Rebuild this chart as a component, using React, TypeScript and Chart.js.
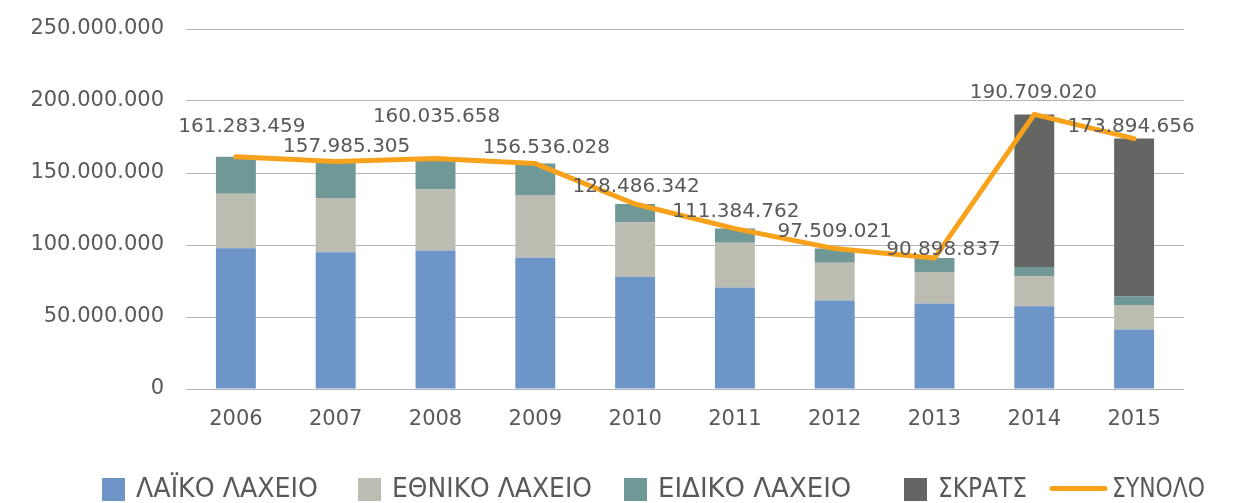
import React, { useEffect, useRef } from 'react';
import { Chart, registerables } from 'chart.js';

Chart.register(...registerables);

const years = ['2006', '2007', '2008', '2009', '2010', '2011', '2012', '2013', '2014', '2015'];
const laiko = [97700000, 95000000, 96100000, 91200000, 77900000, 70400000, 61400000, 59300000, 57500000, 41300000];
const ethniko = [37900000, 37600000, 42500000, 43500000, 37900000, 31200000, 26200000, 22000000, 20600000, 17100000];
const eidiko = [25683459, 25385305, 21435658, 21836028, 12686342, 9784762, 9909021, 9598837, 6700000, 5800000];
const skrats = [0, 0, 0, 0, 0, 0, 0, 0, 105909020, 109694656];
const synolo = [161283459, 157985305, 160035658, 156536028, 128486342, 111384762, 97509021, 90898837, 190709020, 173894656];
const yTicks = [0, 50000000, 100000000, 150000000, 200000000, 250000000];

// label placement relative to line points (layout only)
const labelDx = [6, 11, 1, 11, 1, 1, 0, 9, -1, -3];
const labelDy = [-30, -15, -42, -16, -17, -17, -17, -8, -22, -12];

// legend layout (style only)
const legendX = [102, 358, 624, 904, 1050];
const legendTextW = [182, 200, 198, 89, 93];

const FONT = "'DejaVu Sans', sans-serif";
const TEXT = '#595959';
const COLORS = {
  laiko: '#6d95c8',
  ethniko: '#bcbcb0',
  eidiko: '#709896',
  skrats: '#646664',
  synolo: '#f8a21c',
};

const fmt = (n: number) => Math.round(n).toString().replace(/\B(?=(\d{3})+(?!\d))/g, '.');

const dataLabelPlugin = {
  id: 'lineLabels',
  afterDatasetsDraw(chart: any) {
    const idx = chart.data.datasets.findIndex((d: any) => d.type === 'line');
    if (idx < 0) return;
    const meta = chart.getDatasetMeta(idx);
    const ctx = chart.ctx;
    ctx.save();
    ctx.font = `20px ${FONT}`;
    ctx.fillStyle = TEXT;
    ctx.textAlign = 'center';
    ctx.textBaseline = 'middle';
    meta.data.forEach((pt: any, i: number) => {
      const v = chart.data.datasets[idx].data[i];
      ctx.fillText(fmt(v), pt.x + labelDx[i], pt.y + labelDy[i]);
    });
    ctx.restore();
  },
};

const legendPlugin = {
  id: 'customLegend',
  afterDraw(chart: any) {
    const ctx = chart.ctx;
    ctx.save();
    ctx.font = `26px ${FONT}`;
    ctx.textBaseline = 'middle';
    ctx.textAlign = 'left';
    const cy = 489.5;
    chart.data.datasets.forEach((ds: any, i: number) => {
      let x = legendX[i];
      const isLine = ds.type === 'line';
      if (isLine) {
        ctx.strokeStyle = ds.borderColor;
        ctx.lineWidth = 5;
        ctx.lineCap = 'round';
        ctx.beginPath();
        ctx.moveTo(x + 2, cy - 1);
        ctx.lineTo(x + 55, cy - 1);
        ctx.stroke();
        x += 62;
      } else {
        ctx.fillStyle = ds.backgroundColor;
        ctx.fillRect(x, cy - 11.5, 23, 23);
        x += 34;
      }
      ctx.fillStyle = TEXT;
      ctx.fillText(ds.label, x, cy + 1, legendTextW[i]);
    });
    ctx.restore();
  },
};

export default function App() {
  const ref = useRef<HTMLCanvasElement>(null);

  useEffect(() => {
    if (!ref.current) return;
    const barCommon = {
      type: 'bar' as const,
      stack: 'bars',
      order: 1,
      barPercentage: 0.4,
      categoryPercentage: 1,
      borderWidth: 0,
    };
    const chart = new Chart(ref.current, {
      type: 'bar',
      data: {
        labels: years,
        datasets: [
          { ...barCommon, label: 'ΛΑΪΚΟ ΛΑΧΕΙΟ', data: laiko, backgroundColor: COLORS.laiko },
          { ...barCommon, label: 'ΕΘΝΙΚΟ ΛΑΧΕΙΟ', data: ethniko, backgroundColor: COLORS.ethniko },
          { ...barCommon, label: 'ΕΙΔΙΚΟ ΛΑΧΕΙΟ', data: eidiko, backgroundColor: COLORS.eidiko },
          { ...barCommon, label: 'ΣΚΡΑΤΣ', data: skrats, backgroundColor: COLORS.skrats },
          {
            type: 'line',
            label: 'ΣΥΝΟΛΟ',
            data: synolo,
            stack: 'total',
            order: 0,
            borderColor: COLORS.synolo,
            backgroundColor: COLORS.synolo,
            borderWidth: 5,
            pointRadius: 0,
            pointHoverRadius: 0,
            tension: 0,
            borderCapStyle: 'round',
            borderJoinStyle: 'round',
          } as any,
        ],
      },
      options: {
        responsive: false,
        animation: false,
        layout: { padding: { top: 29, right: 53, bottom: 0, left: 0 } },
        plugins: {
          legend: { display: false },
          tooltip: { enabled: false },
        },
        scales: {
          x: {
            stacked: true,
            grid: { display: false },
            border: { display: false },
            ticks: { color: TEXT, font: { size: 21, family: FONT }, padding: 10 },
            afterFit: (s: any) => { s.height = 114; },
          },
          y: {
            stacked: true,
            min: 0,
            max: 250000000,
            afterBuildTicks: (s: any) => { s.ticks = yTicks.map((v) => ({ value: v })); },
            grid: { color: '#b4b4b4', lineWidth: 1, drawTicks: false },
            border: { display: false },
            ticks: {
              color: TEXT,
              font: { size: 21, family: FONT },
              padding: 22,
              callback: (v: any) => fmt(Number(v)),
            },
            afterFit: (s: any) => {
              s.width = 186;
              s.paddingTop = 0;
              s.paddingBottom = 0;
            },
          },
        },
      },
      plugins: [dataLabelPlugin, legendPlugin],
    });
    return () => chart.destroy();
  }, []);

  return (
    <div style={{ position: 'absolute', left: 0, top: 0, width: 1237, height: 503, background: '#fff' }}>
      <canvas ref={ref} width={1237} height={503} />
    </div>
  );
}
